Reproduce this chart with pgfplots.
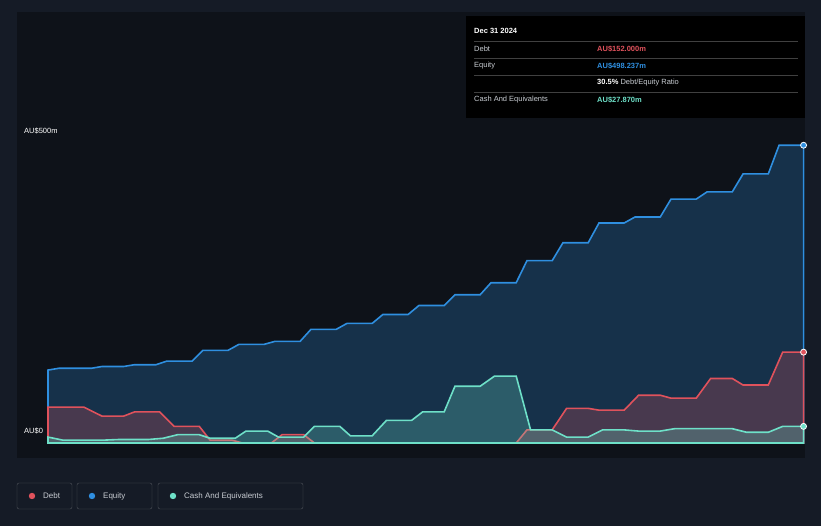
\documentclass[border=0pt]{standalone}
\usepackage{pgfplots}
\pgfplotsset{compat=1.18}
\usepackage{fontspec}
\setmainfont{Liberation Sans}
\definecolor{bg}{HTML}{151B26}
\definecolor{debt}{HTML}{E0525C}
\definecolor{eq}{HTML}{2F8FE0}
\definecolor{cash}{HTML}{6EE0C8}
\definecolor{lab}{HTML}{C8CCD2}
\begin{document}
\begin{tikzpicture}[x=1pt,y=1pt]
\fill[bg] (0,0) rectangle (821,526);
\begin{axis}[at={(17pt,68pt)},anchor=south west,scale only axis,width=788pt,height=445.5pt,
 xmin=2014.07,xmax=2025.01,ymin=-25,ymax=720,axis line style={draw=none},
 tick style={draw=none},xtick={2015,...,2024},ytick={0,100,200,300,400,500},yticklabels={},
 ymajorgrids,grid style={white!25!bg,line width=0.6pt},
 xticklabel style={anchor=center,yshift=3pt,font=\fontsize{8}{9}\selectfont,text=lab},
 /pgf/number format/1000 sep={},/pgf/number format/assume math mode=true,
 clip=false,set layers]
\fill[black!35!bg] (axis cs:2014.07,-25) rectangle (axis cs:2025.01,720);
\addplot[draw=eq,line width=1.6pt,fill=eq,fill opacity=0.25] coordinates {
(2014.5,122)(2014.65,125)(2015.1,125)(2015.25,128)(2015.55,128)(2015.7,131)(2016,131)(2016.15,137)(2016.5,137)(2016.65,155)(2017,155)(2017.15,165)(2017.5,165)(2017.65,170)(2018,170)(2018.15,190)(2018.5,190)(2018.65,200)(2019,200)(2019.15,215)(2019.5,215)(2019.65,230)(2020,230)(2020.15,248)(2020.5,248)(2020.65,268)(2021,268)(2021.15,305)(2021.5,305)(2021.65,335)(2022,335)(2022.15,368)(2022.5,368)(2022.65,378)(2023,378)(2023.15,408)(2023.5,408)(2023.65,420)(2024,420)(2024.15,450)(2024.5,450)(2024.65,498)(2024.99,498)} \closedcycle;
\addplot[draw=debt,line width=1.6pt,fill=debt,fill opacity=0.25] coordinates {
(2014.5,60)(2015.0,60)(2015.25,45)(2015.55,45)(2015.7,52)(2016.05,52)(2016.25,28)(2016.6,28)(2016.75,5)(2017.05,5)(2017.2,0)(2017.6,0)(2017.75,14)(2018.05,14)(2018.2,0)(2021,0)(2021.15,22)(2021.5,22)(2021.7,58)(2022,58)(2022.15,55)(2022.5,55)(2022.7,80)(2023,80)(2023.15,75)(2023.5,75)(2023.7,108)(2024,108)(2024.15,97)(2024.5,97)(2024.7,152)(2024.99,152)} \closedcycle;
\addplot[draw=cash,line width=1.6pt,fill=cash,fill opacity=0.25] coordinates {
(2014.5,10)(2014.7,5)(2015.3,5)(2015.5,6)(2015.9,6)(2016.1,8)(2016.3,14)(2016.6,14)(2016.75,8)(2017.1,8)(2017.25,20)(2017.55,20)(2017.7,10)(2018.05,10)(2018.2,28)(2018.55,28)(2018.7,12)(2019.0,12)(2019.2,38)(2019.55,38)(2019.7,52)(2020,52)(2020.15,95)(2020.5,95)(2020.7,112)(2021.0,112)(2021.2,22)(2021.5,22)(2021.7,10)(2022.0,10)(2022.2,22)(2022.5,22)(2022.7,20)(2023.0,20)(2023.2,24)(2024.0,24)(2024.2,18)(2024.5,18)(2024.7,27.87)(2024.99,27.87)} \closedcycle;
\addplot[only marks,mark=*,mark size=3pt,mark options={fill=eq,draw=white,line width=0.8pt}] coordinates {(2024.99,498)};
\addplot[only marks,mark=*,mark size=3pt,mark options={fill=debt,draw=white,line width=0.8pt}] coordinates {(2024.99,152)};
\addplot[only marks,mark=*,mark size=3pt,mark options={fill=cash,draw=white,line width=0.8pt}] coordinates {(2024.99,27.87)};
\end{axis}
\begin{scope}[every node/.style={font=\fontsize{7.5}{9}\selectfont,anchor=west,inner sep=0}]
\node[text=white] at (24,395) {AU\$500m};
\node[text=white] at (24,95) {AU\$0};
\draw[white!25!bg,rounded corners=2pt] (17,17) rectangle (72,43);
\draw[white!25!bg,rounded corners=2pt] (77,17) rectangle (152,43);
\draw[white!25!bg,rounded corners=2pt] (158,17) rectangle (303,43);
\fill[debt] (32,30) circle (3.2pt); \node[text=lab,font=\fontsize{8}{9}\selectfont] at (43,30) {Debt};
\fill[eq] (92,30) circle (3.2pt); \node[text=lab,font=\fontsize{8}{9}\selectfont] at (103,30) {Equity};
\fill[cash] (173,30) circle (3.2pt); \node[text=lab,font=\fontsize{8}{9}\selectfont] at (184,30) {Cash And Equivalents};
\fill[black] (466,408) rectangle (805,510);
\node[text=white,font=\bfseries\fontsize{7.5}{9}\selectfont] at (474,495) {Dec 31 2024};
\foreach \y in {485,468,451,434} \draw[white!25!black,line width=0.5pt] (474,\y) -- (798,\y);
\node[text=lab] at (474,477) {Debt};
\node[text=debt,font=\bfseries\fontsize{7.5}{9}\selectfont] at (597,477) {AU\$152.000m};
\node[text=lab] at (474,460) {Equity};
\node[text=eq,font=\bfseries\fontsize{7.5}{9}\selectfont] at (597,460) {AU\$498.237m};
\node[text=lab] at (597,443) {\textbf{\color{white}30.5\%} Debt/Equity Ratio};
\node[text=lab] at (474,426) {Cash And Equivalents};
\node[text=cash,font=\bfseries\fontsize{7.5}{9}\selectfont] at (597,426) {AU\$27.870m};
\end{scope}
\end{tikzpicture}
\end{document}
